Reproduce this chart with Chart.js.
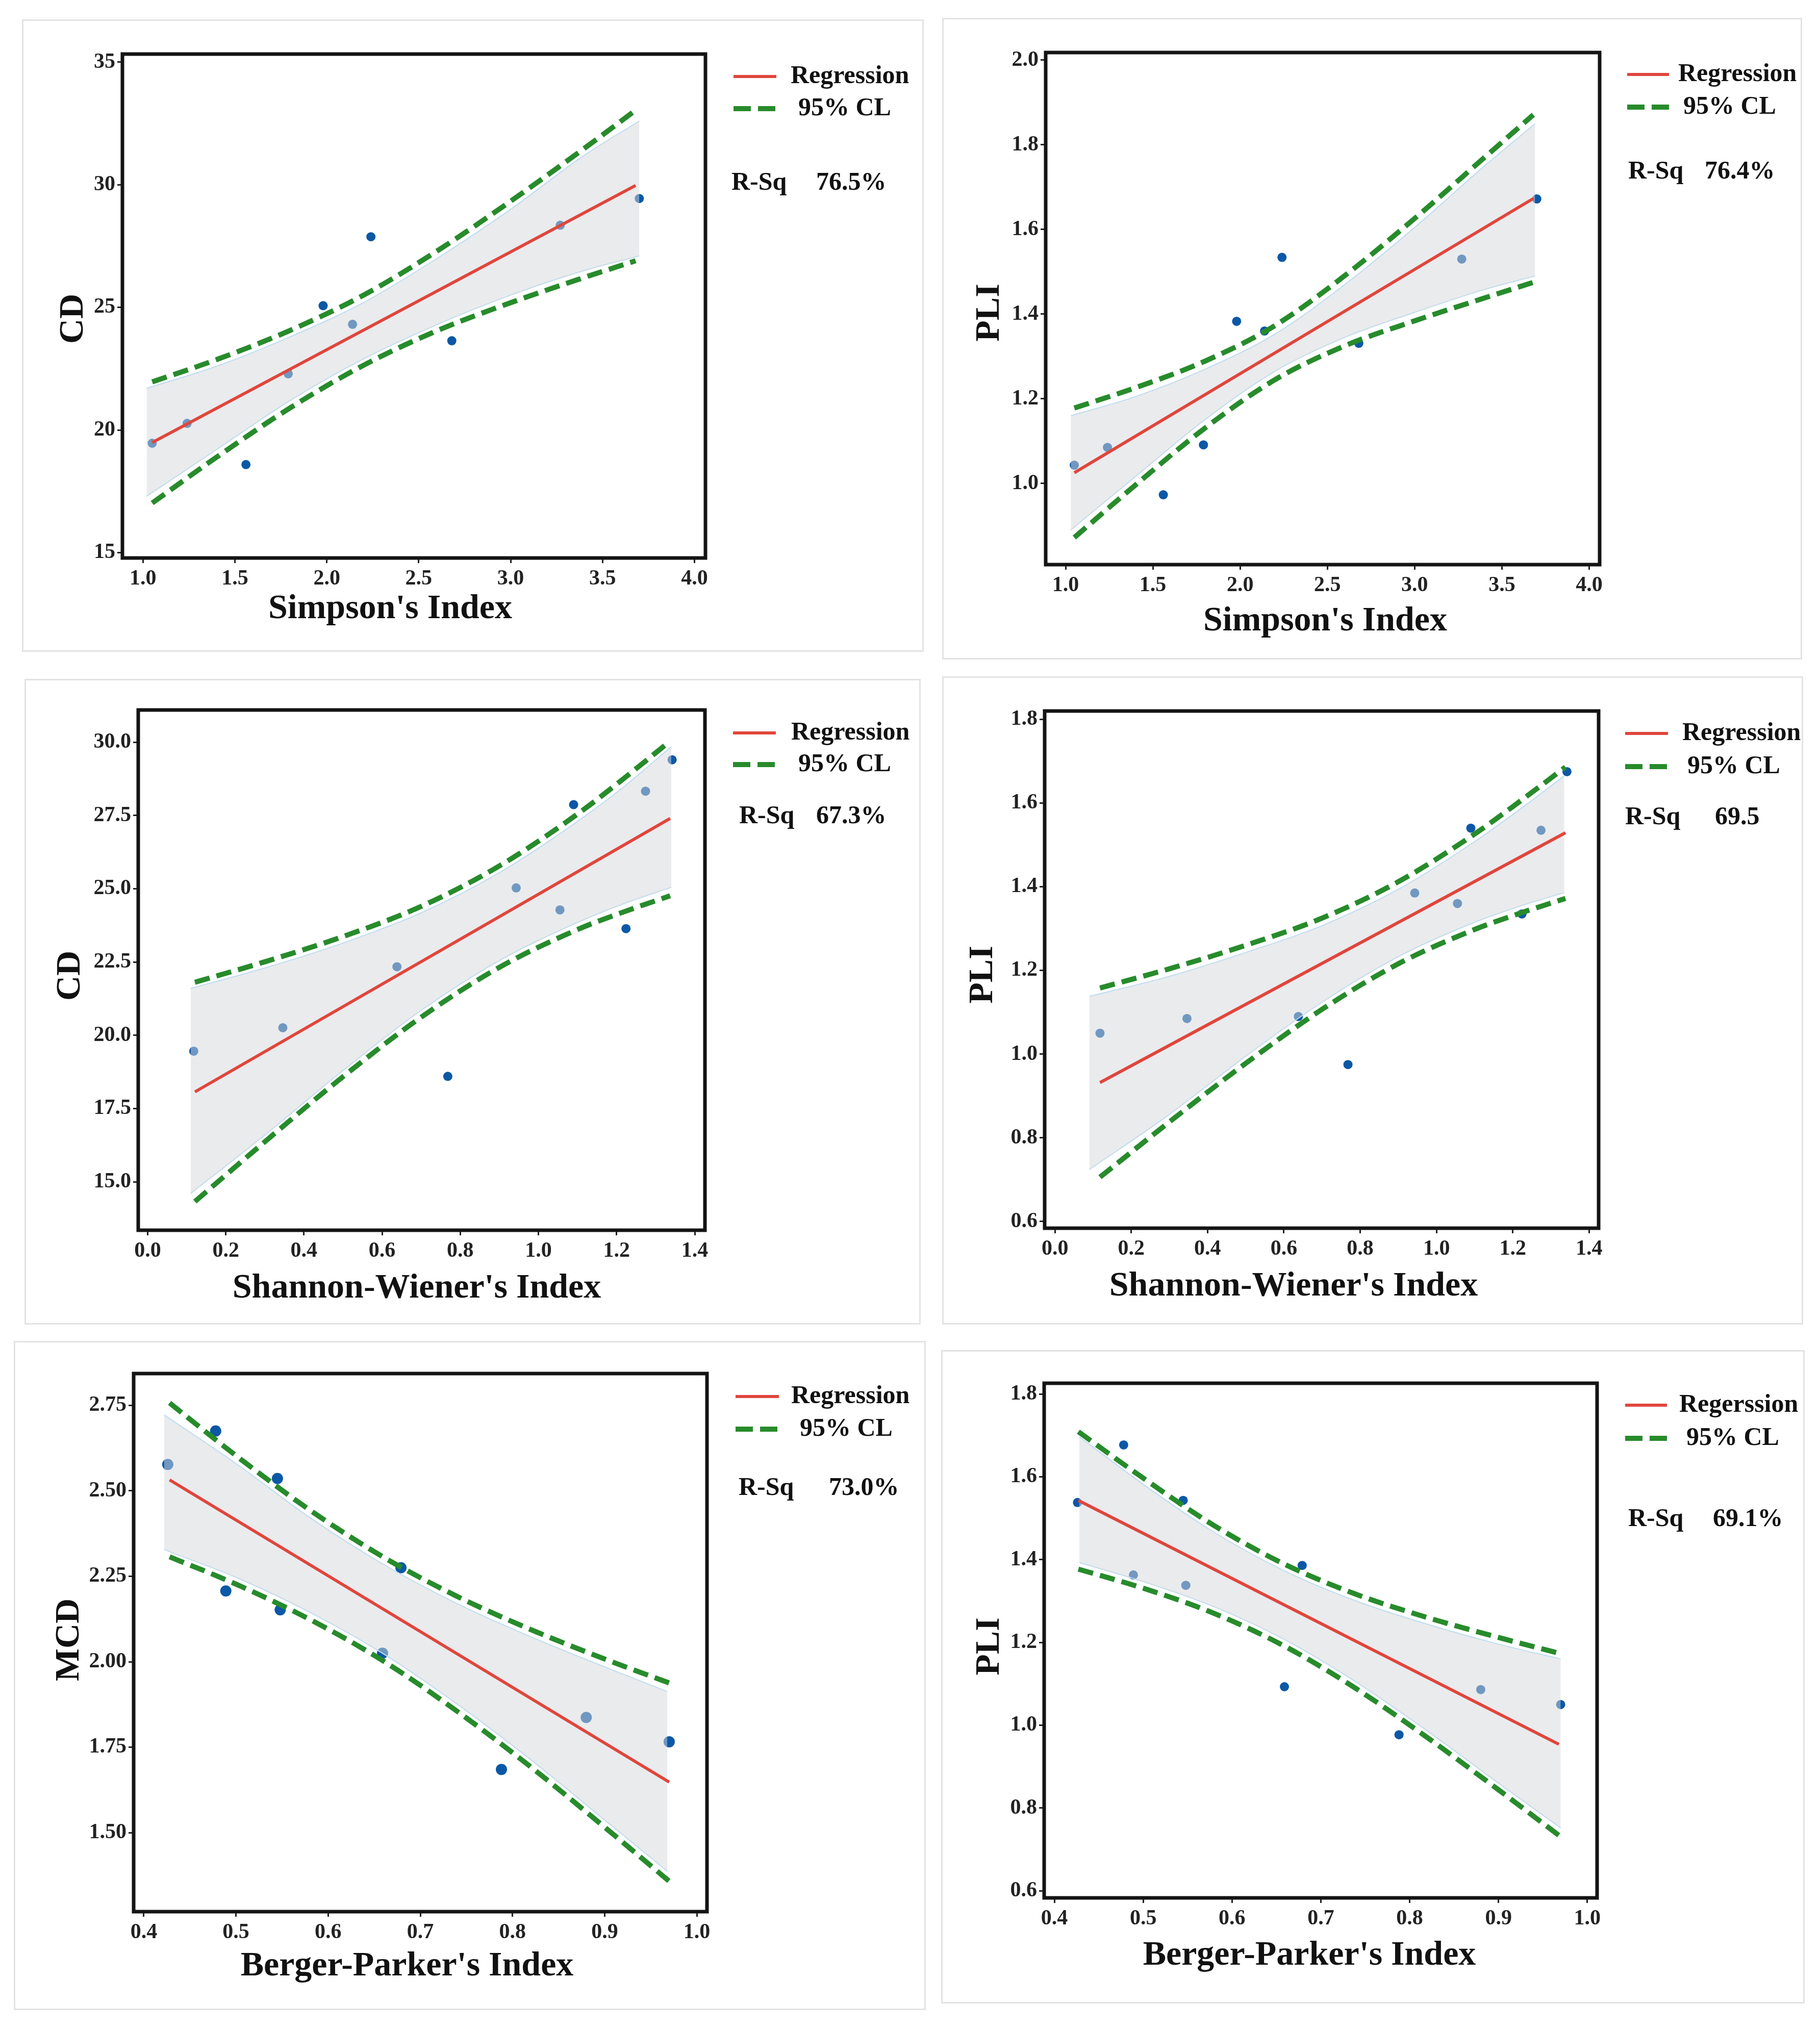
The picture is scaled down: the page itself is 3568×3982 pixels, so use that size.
<!DOCTYPE html>
<html lang="en">
<head>
<meta charset="UTF-8">
<title>Diversity indices vs CD / PLI / MCD</title>
<script src="https://cdn.jsdelivr.net/npm/chart.js"></script>
<style>
  body { margin: 0; background: #fff; width: 3568px; height: 3982px; position: relative; overflow: hidden; }
  .panel { position: absolute; outline: 3px solid #e3e3e3; background: #fff; }
  .panel canvas { display: block; }
</style>
</head>
<body>
<div class="panel" id="p1"><canvas></canvas></div>
<div class="panel" id="p2"><canvas></canvas></div>
<div class="panel" id="p3"><canvas></canvas></div>
<div class="panel" id="p4"><canvas></canvas></div>
<div class="panel" id="p5"><canvas></canvas></div>
<div class="panel" id="p6"><canvas></canvas></div>

<script>
// ---- observed values (10 sites) ----
const simpsonX = [1.05, 1.24, 1.56, 1.79, 1.98, 2.14, 2.24, 2.68, 3.27, 3.70];
const cdBySimpson = [19.46, 20.27, 18.59, 22.29, 25.07, 24.31, 27.88, 23.64, 28.35, 29.44];
const pliBySimpson = [1.043, 1.085, 0.973, 1.091, 1.383, 1.360, 1.534, 1.331, 1.530, 1.672];

const shannonX = [0.118, 0.346, 0.638, 0.768, 0.943, 1.055, 1.090, 1.224, 1.274, 1.342];
const cdByShannon = [19.46, 20.26, 22.34, 18.60, 25.03, 24.28, 27.87, 23.64, 28.33, 29.40];
const pliByShannon = [1.050, 1.085, 1.090, 0.975, 1.385, 1.360, 1.540, 1.335, 1.535, 1.675];

const bergerX = [0.426, 0.478, 0.489, 0.545, 0.548, 0.659, 0.679, 0.788, 0.880, 0.970];
const mcdByBerger = [2.577, 2.675, 2.207, 2.536, 2.152, 2.025, 2.275, 1.685, 1.837, 1.766];
const pliByBerger = [1.538, 1.677, 1.363, 1.543, 1.338, 1.093, 1.386, 0.977, 1.086, 1.050];

// ---- regression lines (end points) ----
const p1RegX = [1.05, 3.68];   const p1RegY = [19.49, 29.97];
const p2RegX = [1.05, 3.68];   const p2RegY = [1.025, 1.673];
const p3RegX = [0.121, 1.337]; const p3RegY = [18.07, 27.40];
const p4RegX = [0.118, 1.338]; const p4RegY = [0.932, 1.529];
const p5RegX = [0.428, 0.970]; const p5RegY = [2.532, 1.648];
const p6RegX = [0.427, 0.968]; const p6RegY = [1.543, 0.954];

// ---- 95% confidence limits (dashed) ----
const p1CiX = [1.05, 1.4, 1.8, 2.2, 2.6, 3.0, 3.4, 3.68];
const p1CiUp = [21.96, 22.87, 24.06, 25.50, 27.30, 29.33, 31.48, 33.04];
const p1CiLo = [17.02, 18.89, 20.90, 22.64, 24.05, 25.19, 26.22, 26.90];
const p2CiX = [1.05, 1.4, 1.8, 2.2, 2.6, 3.0, 3.4, 3.68];
const p2CiUp = [1.178, 1.226, 1.289, 1.373, 1.491, 1.626, 1.770, 1.871];
const p2CiLo = [0.872, 0.996, 1.131, 1.245, 1.325, 1.384, 1.438, 1.475];
const p3CiX = [0.121, 0.3, 0.5, 0.7, 0.9, 1.1, 1.22, 1.337];
const p3CiUp = [21.81, 22.51, 23.37, 24.40, 25.78, 27.55, 28.78, 30.04];
const p3CiLo = [14.33, 16.37, 18.59, 20.62, 22.32, 23.61, 24.22, 24.76];
const p4CiX = [0.118, 0.3, 0.5, 0.7, 0.9, 1.1, 1.22, 1.338];
const p4CiUp = [1.158, 1.204, 1.260, 1.325, 1.412, 1.526, 1.605, 1.686];
const p4CiLo = [0.706, 0.838, 0.978, 1.107, 1.216, 1.298, 1.337, 1.372];
const p5CiX = [0.428, 0.5, 0.58, 0.66, 0.74, 0.82, 0.9, 0.97];
const p5CiUp = [2.757, 2.603, 2.444, 2.306, 2.191, 2.094, 2.008, 1.938];
const p5CiLo = [2.307, 2.227, 2.124, 2.002, 1.855, 1.692, 1.516, 1.358];
const p6CiX = [0.427, 0.5, 0.58, 0.66, 0.74, 0.82, 0.9, 0.968];
const p6CiUp = [1.709, 1.597, 1.482, 1.388, 1.316, 1.260, 1.212, 1.174];
const p6CiLo = [1.377, 1.331, 1.270, 1.190, 1.088, 0.970, 0.844, 0.734];

// ---- shaded confidence band ----
const p1BandX = [1.02, 1.4, 1.8, 2.2, 2.6, 3.0, 3.4, 3.70];
const p1BandUp = [21.7, 22.6, 23.8, 25.2, 27.0, 29.0, 31.2, 32.6];
const p1BandLo = [17.3, 19.2, 21.2, 22.9, 24.3, 25.5, 26.5, 27.1];
const p2BandX = [1.03, 1.4, 1.8, 2.2, 2.6, 3.0, 3.4, 3.69];
const p2BandUp = [1.160, 1.205, 1.270, 1.353, 1.470, 1.605, 1.750, 1.850];
const p2BandLo = [0.890, 1.016, 1.151, 1.265, 1.345, 1.404, 1.458, 1.490];
const p3BandX = [0.11, 0.3, 0.5, 0.7, 0.9, 1.1, 1.22, 1.34];
const p3BandUp = [21.60, 22.30, 23.15, 24.18, 25.55, 27.30, 28.50, 29.85];
const p3BandLo = [14.60, 16.60, 18.80, 20.85, 22.55, 23.85, 24.50, 25.05];
const p4BandX = [0.09, 0.3, 0.5, 0.7, 0.9, 1.1, 1.22, 1.335];
const p4BandUp = [1.138, 1.186, 1.243, 1.307, 1.394, 1.508, 1.586, 1.665];
const p4BandLo = [0.724, 0.856, 0.995, 1.124, 1.233, 1.315, 1.354, 1.386];
const p5BandX = [0.422, 0.5, 0.58, 0.66, 0.74, 0.82, 0.9, 0.968];
const p5BandUp = [2.722, 2.580, 2.422, 2.285, 2.170, 2.073, 1.985, 1.913];
const p5BandLo = [2.328, 2.247, 2.145, 2.023, 1.876, 1.713, 1.537, 1.387];
const p6BandX = [0.428, 0.5, 0.58, 0.66, 0.74, 0.82, 0.9, 0.97];
const p6BandUp = [1.697, 1.582, 1.466, 1.372, 1.300, 1.244, 1.196, 1.160];
const p6BandLo = [1.393, 1.347, 1.286, 1.206, 1.104, 0.986, 0.860, 0.752];

// ---- tick values ----
const simpsonTicks = [1.0, 1.5, 2.0, 2.5, 3.0, 3.5, 4.0];
const shannonTicks = [0.0, 0.2, 0.4, 0.6, 0.8, 1.0, 1.2, 1.4];
const bergerTicks = [0.4, 0.5, 0.6, 0.7, 0.8, 0.9, 1.0];
const cdTicksA = [15, 20, 25, 30, 35];
const cdTicksB = [15.0, 17.5, 20.0, 22.5, 25.0, 27.5, 30.0];
const pliTicksA = [1.0, 1.2, 1.4, 1.6, 1.8, 2.0];
const pliTicksB = [0.6, 0.8, 1.0, 1.2, 1.4, 1.6, 1.8];
const mcdTicks = [1.50, 1.75, 2.00, 2.25, 2.50, 2.75];

// ---- texts ----
const xTitles = ["Simpson's Index", "Simpson's Index", "Shannon-Wiener's Index", "Shannon-Wiener's Index", "Berger-Parker's Index", "Berger-Parker's Index"];
const yTitles = ['CD', 'PLI', 'CD', 'PLI', 'MCD', 'PLI'];
const regLabels = ['Regression', 'Regression', 'Regression', 'Regression', 'Regression', 'Regerssion'];
const ciLabel = '95% CL';
const rsqValues = ['76.5%', '76.4%', '67.3%', '69.5', '73.0%', '69.1%'];

const zip = (xs, ys) => xs.map((x, i) => ({ x: x, y: ys[i] }));

const SERIF = "'Liberation Serif', 'Times New Roman', serif";
const RED = '#e0463c';
const GREEN = '#278b2b';
const DOT = '#0c58a6';

// page layout (page pixels): panel box, plot area, title anchors, note anchors
const panels = [
  { id: 'p1', box: [46, 41, 1808, 1275], plot: [240, 106, 1383, 1094], yT: [144, 625], xT: [765, 1194],
    xr: [0.888, 4.06], yr: [14.78, 35.33], xTicks: simpsonTicks, yTicks: cdTicksA, xd: 1, yd: 0, r: 9,
    pts: zip(simpsonX, cdBySimpson), reg: zip(p1RegX, p1RegY), ciUp: zip(p1CiX, p1CiUp), ciLo: zip(p1CiX, p1CiLo),
    bUp: zip(p1BandX, p1BandUp), bLo: zip(p1BandX, p1BandLo),
    notes: { lx: [1438, 1522], regY: 150, regX: 1550, clY: 213, clX: 1565, rsqX: 1434, rsqY: 359, valX: 1600 } },
  { id: 'p2', box: [1850, 38, 3530, 1290], plot: [2050, 103, 3136, 1107], yT: [1940, 613], xT: [2598, 1218],
    xr: [0.886, 4.06], yr: [0.808, 2.018], xTicks: simpsonTicks, yTicks: pliTicksA, xd: 1, yd: 1, r: 9,
    pts: zip(simpsonX, pliBySimpson), reg: zip(p2RegX, p2RegY), ciUp: zip(p2CiX, p2CiUp), ciLo: zip(p2CiX, p2CiLo),
    bUp: zip(p2BandX, p2BandUp), bLo: zip(p2BandX, p2BandLo),
    notes: { lx: [3190, 3272], regY: 146, regX: 3290, clY: 210, clX: 3300, rsqX: 3192, rsqY: 337, valX: 3342 } },
  { id: 'p3', box: [51, 1334, 1802, 2594], plot: [271, 1392, 1382, 2412], yT: [138, 1913], xT: [817, 2526],
    xr: [-0.024, 1.426], yr: [13.35, 31.1], xTicks: shannonTicks, yTicks: cdTicksB, xd: 1, yd: 1, r: 9,
    pts: zip(shannonX, cdByShannon), reg: zip(p3RegX, p3RegY), ciUp: zip(p3CiX, p3CiUp), ciLo: zip(p3CiX, p3CiLo),
    bUp: zip(p3BandX, p3BandUp), bLo: zip(p3BandX, p3BandLo),
    notes: { lx: [1437, 1521], regY: 1437, regX: 1551, clY: 1499, clX: 1565, rsqX: 1449, rsqY: 1601, valX: 1600 } },
  { id: 'p4', box: [1850, 1329, 3532, 2594], plot: [2048, 1394, 3134, 2408], yT: [1927, 1911], xT: [2536, 2522],
    xr: [-0.027, 1.425], yr: [0.584, 1.82], xTicks: shannonTicks, yTicks: pliTicksB, xd: 1, yd: 1, r: 9,
    pts: zip(shannonX, pliByShannon), reg: zip(p4RegX, p4RegY), ciUp: zip(p4CiX, p4CiUp), ciLo: zip(p4CiX, p4CiLo),
    bUp: zip(p4BandX, p4BandUp), bLo: zip(p4BandX, p4BandLo),
    notes: { lx: [3186, 3270], regY: 1438, regX: 3298, clY: 1503, clX: 3308, rsqX: 3186, rsqY: 1603, valX: 3362 } },
  { id: 'p5', box: [30, 2632, 1812, 3938], plot: [262, 2693, 1386, 3748], yT: [136, 3215], xT: [798, 3855],
    xr: [0.389, 1.011], yr: [1.269, 2.843], xTicks: bergerTicks, yTicks: mcdTicks, xd: 1, yd: 2, r: 11,
    pts: zip(bergerX, mcdByBerger), reg: zip(p5RegX, p5RegY), ciUp: zip(p5CiX, p5CiUp), ciLo: zip(p5CiX, p5CiLo),
    bUp: zip(p5BandX, p5BandUp), bLo: zip(p5BandX, p5BandLo),
    notes: { lx: [1442, 1527], regY: 2738, regX: 1551, clY: 2802, clX: 1568, rsqX: 1448, rsqY: 2918, valX: 1625 } },
  { id: 'p6', box: [1848, 2650, 3535, 3925], plot: [2047, 2712, 3131, 3721], yT: [1940, 3228], xT: [2567, 3834],
    xr: [0.3885, 1.011], yr: [0.583, 1.826], xTicks: bergerTicks, yTicks: pliTicksB, xd: 1, yd: 1, r: 9,
    pts: zip(bergerX, pliByBerger), reg: zip(p6RegX, p6RegY), ciUp: zip(p6CiX, p6CiUp), ciLo: zip(p6CiX, p6CiLo),
    bUp: zip(p6BandX, p6BandUp), bLo: zip(p6BandX, p6BandLo),
    notes: { lx: [3186, 3268], regY: 2755, regX: 3292, clY: 2820, clX: 3306, rsqX: 3192, rsqY: 2979, valX: 3358 } }
];

// frame around the plot area, axis titles, legend and R-Sq
const framePlugin = {
  id: 'frame',
  afterDraw(chart) {
    const p = chart.options.plugins.frame.panel;
    const ctx = chart.ctx;
    const a = chart.chartArea;
    const ox = p.box[0], oy = p.box[1], n = p.notes;
    ctx.save();
    ctx.strokeStyle = '#141414';
    ctx.lineWidth = 7;
    ctx.strokeRect(a.left, a.top, a.right - a.left, a.bottom - a.top);

    ctx.fillStyle = '#111';
    ctx.textBaseline = 'middle';
    ctx.textAlign = 'center';
    ctx.font = 'bold 68px ' + SERIF;
    ctx.fillText(p.xTitle, p.xT[0] - ox, p.xT[1] - oy);
    ctx.save();
    ctx.translate(p.yT[0] - ox, p.yT[1] - oy);
    ctx.rotate(-Math.PI / 2);
    ctx.fillText(p.yTitle, 0, 0);
    ctx.restore();

    ctx.font = 'bold 50px ' + SERIF;
    ctx.textAlign = 'left';
    ctx.strokeStyle = RED;
    ctx.lineWidth = 6;
    ctx.beginPath();
    ctx.moveTo(n.lx[0] - ox, n.regY - oy);
    ctx.lineTo(n.lx[1] - ox, n.regY - oy);
    ctx.stroke();
    ctx.fillText(p.regLabel, n.regX - ox, n.regY - oy);

    ctx.strokeStyle = GREEN;
    ctx.lineWidth = 10;
    ctx.setLineDash([34, 14]);
    ctx.beginPath();
    ctx.moveTo(n.lx[0] - ox, n.clY - oy);
    ctx.lineTo(n.lx[1] - ox, n.clY - oy);
    ctx.stroke();
    ctx.setLineDash([]);
    ctx.fillText(ciLabel, n.clX - ox, n.clY - oy);

    ctx.fillText('R-Sq', n.rsqX - ox, n.rsqY - oy);
    ctx.fillText(p.rsq, n.valX - ox, n.rsqY - oy);
    ctx.restore();
  }
};

panels.forEach((p, i) => {
  p.regLabel = regLabels[i];
  p.rsq = rsqValues[i];
  p.xTitle = xTitles[i];
  p.yTitle = yTitles[i];
  const div = document.getElementById(p.id);
  const w = p.box[2] - p.box[0];
  const h = p.box[3] - p.box[1];
  div.style.left = p.box[0] + 'px';
  div.style.top = p.box[1] + 'px';
  div.style.width = w + 'px';
  div.style.height = h + 'px';
  const canvas = div.querySelector('canvas');
  canvas.width = w; canvas.height = h;
  canvas.style.width = w + 'px'; canvas.style.height = h + 'px';

  const yAxisW = p.plot[0] - p.box[0];
  const xAxisH = p.box[3] - p.plot[3];

  const tickFont = { family: SERIF, size: 42, weight: 'bold' };
  const tickGrid = { display: true, drawOnChartArea: false, drawTicks: true, tickLength: 10, tickWidth: 3, tickColor: '#222' };

  new Chart(canvas, {
    type: 'line',
    data: {
      datasets: [
        { data: p.pts, showLine: false, pointRadius: p.r, pointBackgroundColor: DOT, pointBorderWidth: 0, order: 4 },
        { data: p.bUp, fill: '+1', backgroundColor: 'rgba(214,216,219,0.5)', borderColor: '#bddbf1', borderWidth: 2,
          pointRadius: 0, cubicInterpolationMode: 'monotone', order: 3 },
        { data: p.bLo, fill: false, borderColor: '#bddbf1', borderWidth: 2,
          pointRadius: 0, cubicInterpolationMode: 'monotone', order: 3 },
        { data: p.ciUp, borderColor: GREEN, borderWidth: 10, borderDash: [30, 14], pointRadius: 0,
          cubicInterpolationMode: 'monotone', fill: false, order: 2 },
        { data: p.ciLo, borderColor: GREEN, borderWidth: 10, borderDash: [30, 14], pointRadius: 0,
          cubicInterpolationMode: 'monotone', fill: false, order: 2 },
        { data: p.reg, borderColor: RED, borderWidth: 6, pointRadius: 0, fill: false, order: 1 }
      ]
    },
    options: {
      responsive: false,
      animation: false,
      devicePixelRatio: 1,
      layout: { padding: { left: 0, top: p.plot[1] - p.box[1], right: p.box[2] - p.plot[2], bottom: 0 } },
      plugins: { legend: { display: false }, tooltip: { enabled: false }, frame: { panel: p } },
      scales: {
        x: {
          type: 'linear', min: p.xr[0], max: p.xr[1],
          afterBuildTicks: s => { s.ticks = p.xTicks.map(v => ({ value: v })); },
          afterFit: s => { s.height = xAxisH; },
          ticks: { font: tickFont, color: '#222', padding: 6, maxRotation: 0, autoSkip: false,
                   callback: v => Number(v).toFixed(p.xd) },
          grid: tickGrid,
          border: { display: false }
        },
        y: {
          type: 'linear', min: p.yr[0], max: p.yr[1],
          afterBuildTicks: s => { s.ticks = p.yTicks.map(v => ({ value: v })); },
          afterFit: s => { s.width = yAxisW; },
          ticks: { font: tickFont, color: '#222', padding: 4, autoSkip: false,
                   callback: v => Number(v).toFixed(p.yd) },
          grid: tickGrid,
          border: { display: false }
        }
      }
    },
    plugins: [framePlugin]
  });
});
</script>
</body>
</html>
